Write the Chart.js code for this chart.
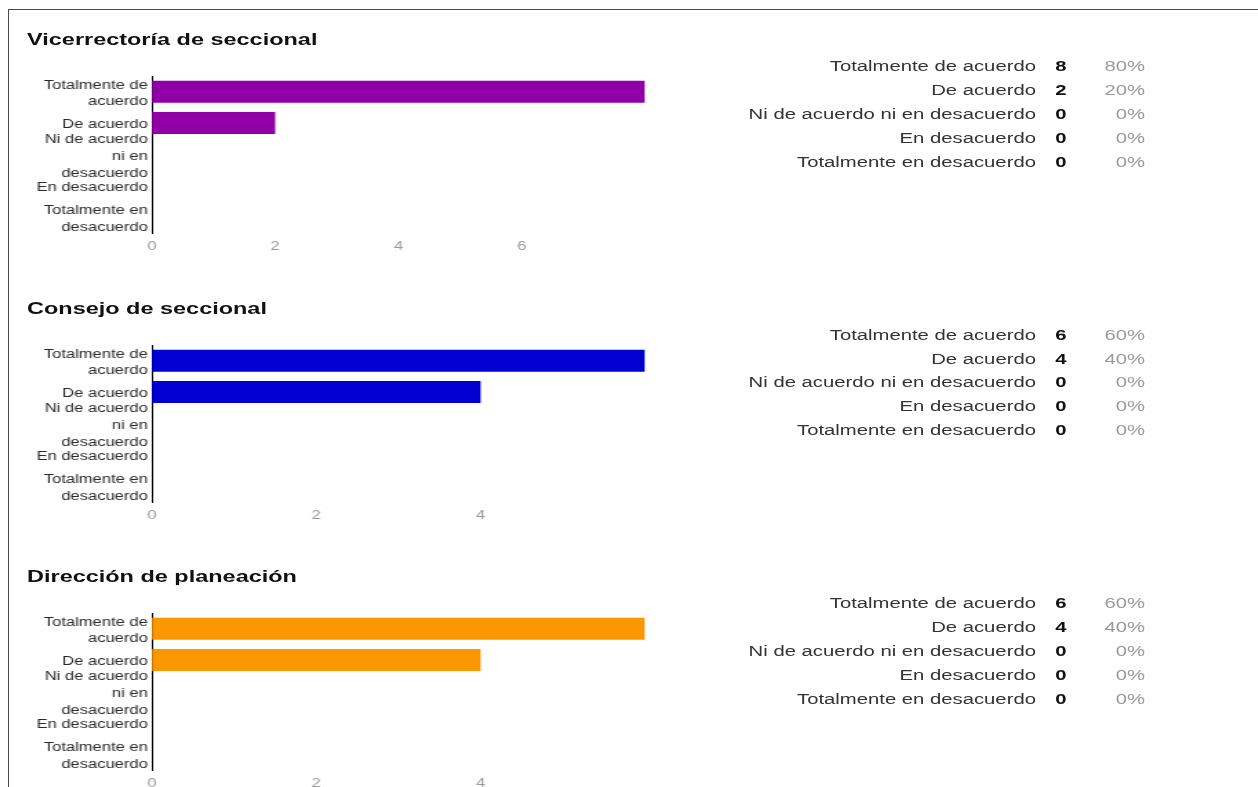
<!DOCTYPE html>
<html><head><meta charset="utf-8">
<script src="https://cdn.jsdelivr.net/npm/chart.js@4.4.1/dist/chart.umd.min.js"></script>
<style>
html,body{margin:0;padding:0;background:#fff;width:1258px;height:787px;overflow:hidden;}
#frameTop{position:absolute;left:8px;top:9px;width:1250px;height:0;border-top:1px solid #4a4a4a;}
#frameLeft{position:absolute;left:8px;top:9px;width:0;height:778px;border-left:1px solid #4a4a4a;}
#stage{position:absolute;left:0;top:0;width:912px;height:787px;transform:scaleX(1.38);transform-origin:0 0;font-family:"Liberation Sans",Arial,sans-serif;}
.title{position:absolute;left:19.6px;font-weight:bold;font-size:17px;line-height:20px;color:#111;white-space:nowrap;}
.lbl{position:absolute;left:500px;width:250.7px;text-align:right;font-size:14.7px;line-height:20px;color:#333;white-space:nowrap;}
.val{position:absolute;left:758.8px;width:20px;text-align:center;font-size:14.7px;line-height:20px;font-weight:bold;color:#111;}
.pct{position:absolute;left:780px;width:49.7px;text-align:right;font-size:14.7px;line-height:20px;color:#9a9a9a;}
canvas{position:absolute;}
</style></head>
<body>
<div id="frameTop"></div><div id="frameLeft"></div>
<div id="stage"></div>
<script>
const categories = [['Totalmente de','acuerdo'], 'De acuerdo', ['Ni de acuerdo','ni en','desacuerdo'], 'En desacuerdo', ['Totalmente en','desacuerdo']];
const tableLabels = ['Totalmente de acuerdo', 'De acuerdo', 'Ni de acuerdo ni en desacuerdo', 'En desacuerdo', 'Totalmente en desacuerdo'];
const panelTitles = ['Vicerrectoría de seccional', 'Consejo de seccional', 'Dirección de planeación'];
const vicerrectoriaValues = [8, 2, 0, 0, 0];
const consejoValues = [6, 4, 0, 0, 0];
const direccionValues = [6, 4, 0, 0, 0];
const axisMax = [8, 6, 6];
const barColors = ['#8f00a6', '#0000d2', '#fb9700'];

const panelValues = [vicerrectoriaValues, consejoValues, direccionValues];
const FONT = '"Liberation Sans", Arial, sans-serif';
const stage = document.getElementById('stage');
const PANEL_STEP = 268.5;

panelValues.forEach((values, i) => {
  const o = i * PANEL_STEP;
  const t = document.createElement('div');
  t.className = 'title';
  t.style.top = (30 + o) + 'px';
  t.textContent = panelTitles[i];
  stage.appendChild(t);

  const total = values.reduce((a, b) => a + b, 0);
  tableLabels.forEach((lab, r) => {
    const top = 56.3 + o + r * 23.8;
    const a = document.createElement('div'); a.className = 'lbl'; a.style.top = top + 'px'; a.textContent = lab; stage.appendChild(a);
    const b = document.createElement('div'); b.className = 'val'; b.style.top = top + 'px'; b.textContent = values[r]; stage.appendChild(b);
    const c = document.createElement('div'); c.className = 'pct'; c.style.top = top + 'px'; c.textContent = Math.round(values[r] / total * 100) + '%'; stage.appendChild(c);
  });

  const cv = document.createElement('canvas');
  cv.width = 480; cv.height = 187;
  cv.style.left = '10px'; cv.style.top = (70 + o) + 'px';
  cv.style.width = '480px'; cv.style.height = '187px';
  stage.appendChild(cv);
  const max = axisMax[i];
  new Chart(cv, {
    type: 'bar',
    data: { labels: categories, datasets: [{ data: values, backgroundColor: barColors[i], borderWidth: 0, barPercentage: 0.7, categoryPercentage: 1 }] },
    options: {
      indexAxis: 'y', responsive: false, animation: false, devicePixelRatio: 1,
      layout: { padding: { top: 6, right: 22.6, left: 0, bottom: 0 } },
      plugins: { legend: { display: false }, tooltip: { enabled: false } },
      scales: {
        x: {
          min: 0, max: max,
          grid: { display: false, drawTicks: false },
          border: { display: false },
          ticks: { stepSize: 2, padding: 6, color: '#999', font: { family: FONT, size: 12 }, callback: (v) => v === max ? '' : v },
          afterFit: (s) => { s.height = 24; s.paddingLeft = 0; s.paddingRight = 0; }
        },
        y: {
          grid: { display: false, drawTicks: false },
          border: { display: true, color: '#000', width: 1 },
          ticks: { padding: 3, labelOffset: 2, color: '#2a2a2a', autoSkip: false, font: { family: FONT, size: 12, lineHeight: 1.4 } },
          afterFit: (s) => { s.width = 100.1; s.paddingTop = 0; s.paddingBottom = 0; }
        }
      }
    }
  });
});
</script>
</body></html>
